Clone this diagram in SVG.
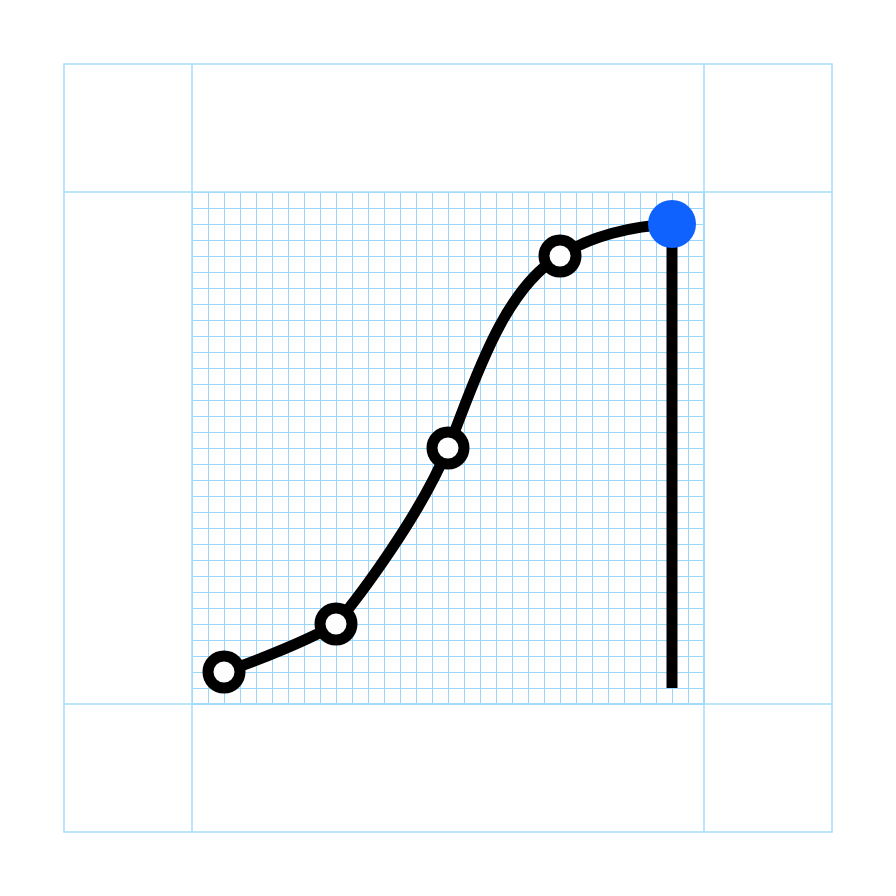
<svg xmlns="http://www.w3.org/2000/svg" width="896" height="896" viewBox="0 0 896 896">
<defs>
<pattern id="fine" x="192" y="192" width="16" height="16" patternUnits="userSpaceOnUse">
<path d="M0 0H16M0 0V16" fill="none" stroke="#99d6fb" stroke-width="2"/>
</pattern>
<style>
.frame{fill:none;stroke:#a6dcfa;stroke-width:1.5}
.curve{fill:none;stroke:#000;stroke-width:11}
.pt{fill:#fff;stroke:#000;stroke-width:11}
</style>
</defs>
<rect width="896" height="896" fill="#fff"/>
<g id="grid">
<rect x="192" y="192" width="512" height="512" fill="url(#fine)"/>
<path d="M192 704H704V192" fill="none" stroke="#99d6fb" stroke-width="2"/>
<rect class="frame" x="64" y="64" width="768" height="768"/>
<path class="frame" d="M192 64V832M704 64V832M64 192H832M64 704H832"/>
</g>
<g id="connectors">
<path class="curve" d="M224 672C259 660 311 639 336 624C358 598 420 516 448 448C470 396 500 290 560 256C590 236 632 226 672 224"/>
<path class="curve" d="M672 224V688"/>
</g>
<g id="p1"><circle class="pt" cx="224" cy="672" r="16"/></g>
<g id="p2"><circle class="pt" cx="336" cy="624" r="16"/></g>
<g id="p3"><circle class="pt" cx="448" cy="448" r="16"/></g>
<g id="p4"><circle class="pt" cx="560" cy="256" r="16"/></g>
<g id="p5"><circle cx="672" cy="224" r="24" fill="#0f62fe"/></g>
</svg>
